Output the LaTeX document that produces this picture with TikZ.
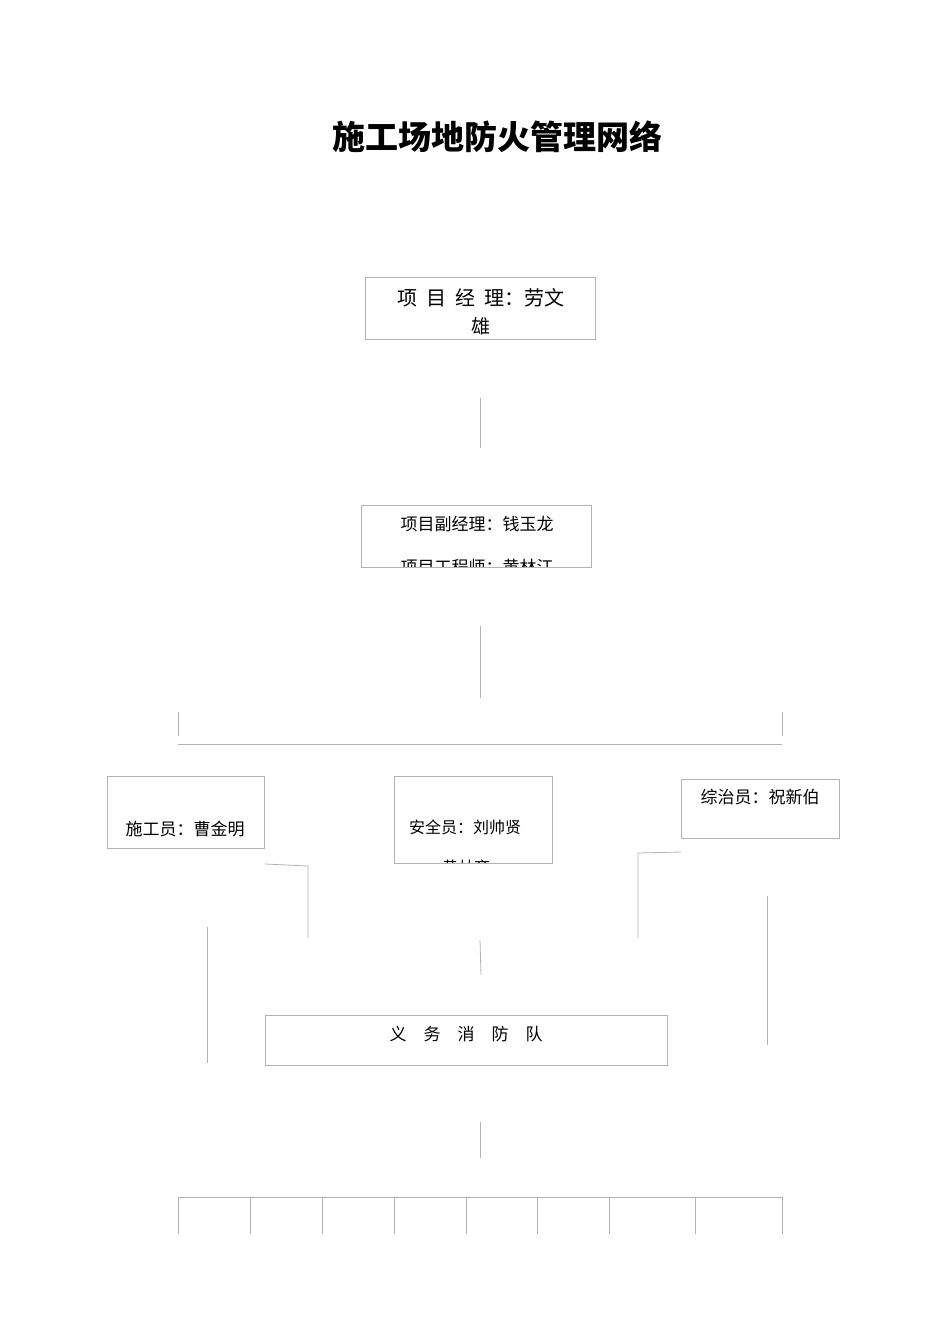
\documentclass[tikz,border=0pt]{standalone}
\usepackage{fontspec}
\newfontfamily\cjk{Noto Sans CJK SC}
\begin{document}
\begin{tikzpicture}[x=1pt,y=-1pt,
  ln/.style={draw=black!30,line width=0.8pt},
  bx/.style={draw=black!30,line width=0.8pt},
  tx/.style={font=\cjk,inner sep=0pt}]
\useasboundingbox (0,0) rectangle (950,1344);
\node[tx,font=\cjk\bfseries\fontsize{33}{33}\selectfont] (title) at (497,137) {施工场地防火管理网络};
% box1
\draw[bx] (365,277) rectangle (595,339);
\node[tx,font=\cjk\fontsize{20}{20}\selectfont] (b1) at (481,298) {项\ \ 目\ \ 经\ \ 理：劳文};
\node[tx,font=\cjk\fontsize{19}{19}\selectfont] (b1b) at (481,326) {雄};
\coordinate (l1a) at (480,398); \coordinate (l1b) at (480,448);
\draw[ln] (l1a) -- (l1b);
% box2
\begin{scope}
\clip (361,505) rectangle (591,567);
\node[tx,font=\cjk\fontsize{17}{17}\selectfont] (b2) at (477,524) {项目副经理：钱玉龙};
\node[tx,font=\cjk\fontsize{17}{17}\selectfont] (b2b) at (477,567) {项目工程师：黄林江};
\end{scope}
\draw[bx] (361,505) rectangle (591,567);
\coordinate (l2a) at (480,626); \coordinate (l2b) at (480,698);
\draw[ln] (l2a) -- (l2b);
\coordinate (t1a) at (178,712); \coordinate (t1b) at (178,736);
\coordinate (t2a) at (782,712); \coordinate (t2b) at (782,736);
\draw[ln] (t1a) -- (t1b); \draw[ln] (t2a) -- (t2b);
\coordinate (ha) at (178,744); \coordinate (hb) at (782,744);
\draw[ln] (ha) -- (hb);
% three boxes
\draw[bx] (107,776) rectangle (264,848);
\node[tx,font=\cjk\fontsize{17}{17}\selectfont] (c1) at (185,829) {施工员：曹金明};
\begin{scope}
\clip (394,776) rectangle (552,863);
\node[tx,font=\cjk\fontsize{16}{16}\selectfont] (c2) at (465,827) {安全员：刘帅贤};
\node[tx,font=\cjk\fontsize{16}{16}\selectfont] (c2b) at (466,867) {黄林斉};
\end{scope}
\draw[bx] (394,776) rectangle (552,863);
\draw[bx] (681,779) rectangle (839,838);
\node[tx,font=\cjk\fontsize{17}{17}\selectfont] (c3) at (760,797) {综治员：祝新伯};
% connectors
\coordinate (p1) at (265,864); \coordinate (p2) at (308,866); \coordinate (p3) at (308,938);
\draw[ln] (p1) -- (p2) -- (p3);
\coordinate (q1) at (207,927); \coordinate (q2) at (207,1063);
\draw[ln] (q1) -- (q2);
\coordinate (r1) at (480,940); \coordinate (r2) at (481,975);
\draw[ln] (r1) -- (r2);
\coordinate (s1) at (638,938); \coordinate (s2) at (638,853); \coordinate (s3) at (681,852);
\draw[ln] (s1) -- (s2) -- (s3);
\coordinate (u1) at (767,896); \coordinate (u2) at (767,1045);
\draw[ln] (u1) -- (u2);
% fire brigade
\draw[bx] (265,1015) rectangle (667,1065);
\node[tx,font=\cjk\fontsize{17}{17}\selectfont] (d) at (466,1034) {义\quad 务\quad 消\quad 防\quad 队};
\coordinate (v1) at (480,1122); \coordinate (v2) at (480,1158);
\draw[ln] (v1) -- (v2);
\coordinate (wa) at (178,1197); \coordinate (wb) at (782,1197);
\draw[ln] (wa) -- (wb);
\foreach \x in {178,250,322,394,466,537,609,695,782}
  \draw[ln] (\x,1197) -- (\x,1234);
\end{tikzpicture}
\end{document}
